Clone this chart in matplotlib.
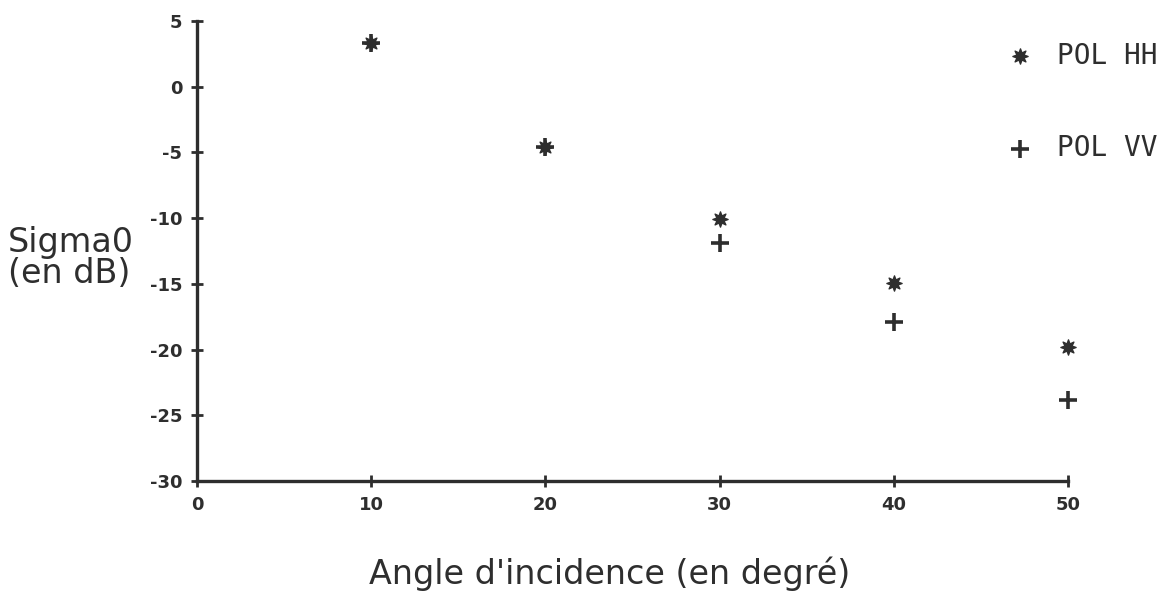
import matplotlib
matplotlib.use("Agg")
import matplotlib.pyplot as plt

# Backscatter measurements vs incidence angle
angles = [10, 20, 30, 40, 50]
sigma_hh = [3.3, -4.6, -10.1, -14.9, -19.8]
sigma_vv = [3.3, -4.6, -11.9, -17.9, -23.8]
x_ticks = [0, 10, 20, 30, 40, 50]
y_ticks = [5, 0, -5, -10, -15, -20, -25, -30]

ink = "#2e2e2e"

fig = plt.figure(figsize=(11.68, 5.95), dpi=100)
ax = fig.add_axes([0.1687, 0.1916, 0.7457, 0.7731])

vv = ax.scatter(angles, sigma_vv, marker="+", s=150, linewidths=2.6, color=ink,
                zorder=3, clip_on=False, label="POL VV")
hh = ax.scatter(angles, sigma_hh, marker=(8, 1, 0), s=120, color=ink,
                zorder=4, clip_on=False, label="POL HH")

ax.set_xlim(0, 50)
ax.set_ylim(-30, 5)
ax.set_xticks(x_ticks)
ax.set_yticks(y_ticks)
ax.set_yticklabels([str(v) for v in y_ticks])

for side in ("top", "right"):
    ax.spines[side].set_visible(False)
for side in ("left", "bottom"):
    ax.spines[side].set_linewidth(2.4)
    ax.spines[side].set_color(ink)

ax.tick_params(direction="inout", length=9, width=2, color=ink,
               labelsize=13, labelcolor=ink, pad=6)
for lab in ax.get_xticklabels() + ax.get_yticklabels():
    lab.set_fontweight("bold")

# legend sits to the right of the plotting area
leg = fig.legend(handles=[hh, vv], loc="upper left", bbox_to_anchor=(0.840, 0.972),
                 frameon=False, prop={"family": "DejaVu Sans Mono", "size": 20},
                 labelspacing=2.32, handletextpad=0.82, handlelength=1.0,
                 scatterpoints=1, labelcolor=ink)

fig.text(0.007, 0.566, "Sigma0\n(en dB)", fontsize=24, color=ink,
         ha="left", va="center", linespacing=0.92)
fig.text(0.522, 0.036, "Angle d'incidence (en degré)", fontsize=24, color=ink,
         ha="center", va="center")

fig.savefig("out.png", dpi=100, facecolor="white")
